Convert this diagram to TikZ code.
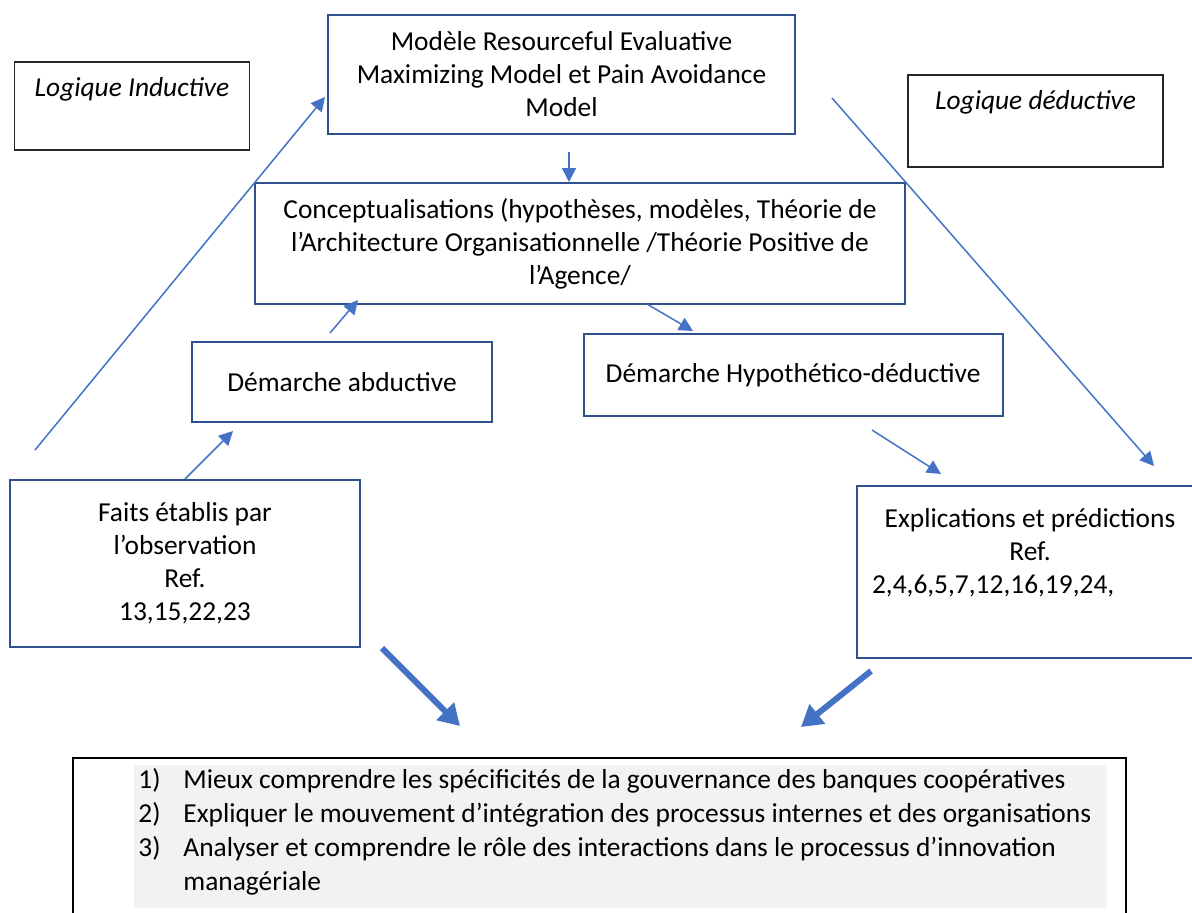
\documentclass[tikz,border=0pt]{standalone}
\usepackage{fontspec}
\setmainfont{Carlito}
\usetikzlibrary{arrows.meta}
\definecolor{boxblue}{HTML}{2F528F}
\definecolor{arrblue}{HTML}{4472C4}
\definecolor{shadegray}{HTML}{F2F2F2}
\begin{document}
\begin{tikzpicture}[x=0.5pt,y=-0.5pt,font=\fontsize{13.7}{16.5}\selectfont,bbox/.style={shape=rectangle,draw=boxblue,line width=1pt,align=center,inner sep=0pt},lbox/.style={shape=rectangle,draw=black!85,line width=0.7pt,align=center,inner sep=0pt,font=\fontsize{13.7}{16.5}\selectfont\itshape},frame/.style={shape=rectangle,draw=black,line width=0.8pt,inner sep=0pt},shadebox/.style={shape=rectangle,fill=shadegray,inner xsep=2pt,inner ysep=0pt},arr/.style={draw=arrblue,line width=0.75pt,-{Triangle[length=7pt,width=7pt]}},tarr/.style={draw=arrblue,line width=3pt,-{Triangle[length=10.5pt,width=12pt]}}]
\useasboundingbox (0,0) rectangle (1192,912);
\fill[white] (0,0) rectangle (1192,912);
\clip (0,0) rectangle (1192,912);

\node[lbox,minimum width=117.5pt,minimum height=44pt] (ind) at (132,106) {Logique Inductive\\[-2pt] \strut};
\node[bbox,minimum width=233.5pt,minimum height=59.5pt] (model) at (561.5,74.5) {Modèle Resourceful Evaluative\\Maximizing Model et Pain Avoidance\\Model};
\node[lbox,minimum width=127.5pt,minimum height=46pt] (ded) at (1035.5,121) {Logique déductive\\ \strut};

\node[bbox,minimum width=325pt,minimum height=60.5pt] (concept) at (580,243.5) {Conceptualisations (hypothèses, modèles, Théorie de\\l’Architecture Organisationnelle /Théorie Positive de\\l’Agence/};

\node[bbox,minimum width=150pt,minimum height=40pt] (abd) at (342,382) {Démarche abductive};
\node[bbox,minimum width=209.5pt,minimum height=41pt] (hyp) at (793,375) {Démarche Hypothético-déductive};

\node[bbox,minimum width=175pt,minimum height=83.5pt] (faits) at (185,563.5) {Faits établis par\\l’observation\\Ref.\\13,15,22,23};
\node[bbox,minimum width=173pt,minimum height=86pt] (expl) at (1030,572) {Explications et prédictions\\Ref.\\\makebox[158pt][l]{2,4,6,5,7,12,16,19,24,}\\ \strut};

\node[frame,minimum width=526.5pt,minimum height=100pt,anchor=north west] (goalframe) at (72,757) {};
\node[shadebox,anchor=north west] (goals) at (134,765) {\parbox[t][71.5pt][t]{482.5pt}{\fontsize{13.7}{17}\selectfont\vspace*{1.5pt}
\makebox[22.5pt][l]{1)}Mieux comprendre les spécificités de la gouvernance des banques coopératives\\
\makebox[22.5pt][l]{2)}Expliquer le mouvement d’intégration des processus internes et des organisations\\
\makebox[22.5pt][l]{3)}Analyser et comprendre le rôle des interactions dans le processus d’innovation\\
\makebox[22.5pt][l]{}managériale}};

\coordinate (m1) at (569,152);
\draw[arr] (m1) -- (m1 |- concept.north);

\coordinate (ind1) at (35,450);
\coordinate (ind2) at (325,97);
\draw[arr] (ind1) -- (ind2);
\coordinate (ded1) at (832,98);
\coordinate (ded2) at (1154,466);
\draw[arr] (ded1) -- (ded2);

\coordinate (f1) at (233,431);
\draw[arr] (faits.north) -- (f1);
\coordinate (a1) at (330,333);
\coordinate (a2) at (358,300);
\draw[arr] (a1) -- (a2);
\coordinate (c1) at (647,304);
\coordinate (c2) at (693,331);
\draw[arr] (c1) -- (c2);
\coordinate (h1) at (872,430);
\coordinate (h2) at (941,474);
\draw[arr] (h1) -- (h2);

\coordinate (g1) at (382,648);
\coordinate (g2) at (460,726);
\draw[tarr] (g1) -- (g2);
\coordinate (g3) at (871,671);
\coordinate (g4) at (801,727);
\draw[tarr] (g3) -- (g4);
\end{tikzpicture}
\end{document}
